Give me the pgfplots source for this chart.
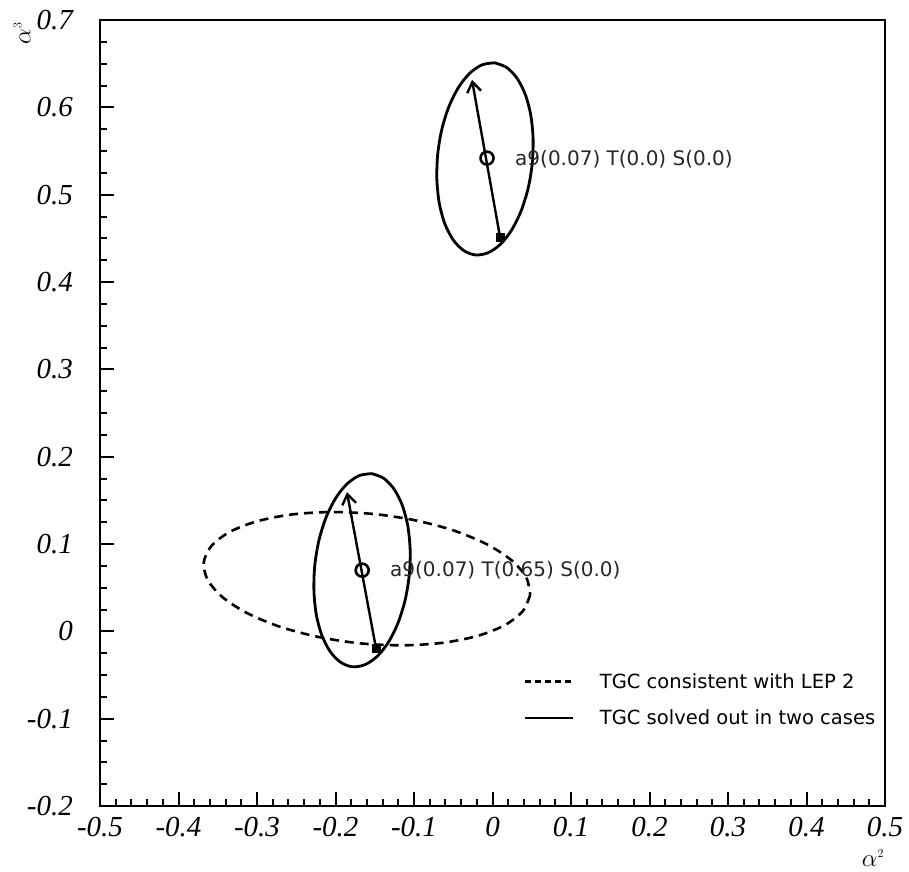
\documentclass[border=0pt]{standalone}
\usepackage{fontspec}
\setmainfont{Liberation Serif}
\newfontfamily\hfont{DejaVu Sans}
\usepackage{pgfplots}
\pgfplotsset{compat=1.18}
\usetikzlibrary{arrows.meta}

% ellipse outlines (alpha2, alpha3)
\pgfplotstableread{
x y
0.0027 0.6510
0.0178 0.6458
0.0311 0.6335
0.0417 0.6149
0.0487 0.5913
0.0517 0.5642
0.0506 0.5356
0.0454 0.5073
0.0364 0.4813
0.0243 0.4594
0.0099 0.4430
-0.0059 0.4334
-0.0219 0.4310
-0.0370 0.4362
-0.0503 0.4485
-0.0609 0.4671
-0.0679 0.4907
-0.0709 0.5178
-0.0698 0.5464
-0.0646 0.5747
-0.0556 0.6007
-0.0435 0.6226
-0.0291 0.6390
-0.0133 0.6487
0.0027 0.6510
}\ellupper
\pgfplotstableread{
x y
-0.1539 0.1806
-0.1388 0.1754
-0.1255 0.1630
-0.1149 0.1443
-0.1079 0.1206
-0.1049 0.0933
-0.1060 0.0646
-0.1112 0.0362
-0.1202 0.0100
-0.1323 -0.0120
-0.1467 -0.0285
-0.1625 -0.0382
-0.1785 -0.0406
-0.1936 -0.0354
-0.2069 -0.0230
-0.2175 -0.0043
-0.2245 0.0194
-0.2275 0.0467
-0.2264 0.0754
-0.2212 0.1038
-0.2122 0.1300
-0.2001 0.1520
-0.1857 0.1685
-0.1699 0.1783
-0.1539 0.1806
}\elllower
\pgfplotstableread{
x y
0.0480 0.0419
0.0388 0.0234
0.0161 0.0073
-0.0186 -0.0051
-0.0630 -0.0131
-0.1139 -0.0160
-0.1680 -0.0138
-0.2215 -0.0065
-0.2709 0.0053
-0.3126 0.0209
-0.3440 0.0392
-0.3628 0.0589
-0.3678 0.0787
-0.3586 0.0972
-0.3359 0.1133
-0.3012 0.1257
-0.2568 0.1337
-0.2059 0.1366
-0.1518 0.1344
-0.0983 0.1271
-0.0489 0.1153
-0.0072 0.0997
0.0242 0.0814
0.0430 0.0617
0.0480 0.0419
}\elllep

\begin{document}
\begin{tikzpicture}
\path[use as bounding box] (-100pt,-65pt) rectangle (809pt,806pt);
\begin{axis}[
  at={(0pt,0pt)}, anchor=south west,
  scale only axis, width=785pt, height=786pt,
  xmin=-0.5, xmax=0.5, ymin=-0.2, ymax=0.7,
  xtick={-0.5,-0.4,-0.3,-0.2,-0.1,0,0.1,0.2,0.3,0.4,0.5},
  xticklabels={-0.5,-0.4,-0.3,-0.2,-0.1,0,0.1,0.2,0.3,0.4,0.5},
  ytick={-0.2,-0.1,0,0.1,0.2,0.3,0.4,0.5,0.6,0.7},
  yticklabels={-0.2,-0.1,0,0.1,0.2,0.3,0.4,0.5,0.6,0.7},
  minor x tick num=4, minor y tick num=3,
  tick pos=left, tick align=inside,
  major tick length=14pt, minor tick length=7pt,
  tick style={line width=2pt, black},
  axis line style={line width=2pt},
  tick label style={font=\fontsize{29}{29}\selectfont\itshape},
  xticklabel style={anchor=north, inner sep=0pt, yshift=-11pt},
  yticklabel style={anchor=east, inner sep=0pt, xshift=-27pt},
  legend style={draw=none, fill=none, at={(0.539,0.135)}, anchor=west,
    font=\hfont\fontsize{19.5}{19.5}\selectfont, inner sep=0pt,
    row sep=20pt, column sep=26pt, nodes={inner sep=0pt}},
  legend cell align=left,
  legend image code/.code={\draw[#1] (0pt,0pt) -- (48pt,0pt);},
]
\addplot[forget plot, line width=2.6pt, dash pattern=on 9pt off 6pt, smooth] table {\elllep};
\addplot[forget plot, line width=2.8pt, smooth] table {\ellupper};
\addplot[forget plot, line width=2.8pt, smooth] table {\elllower};

\addplot[forget plot, line width=2.4pt, -{Straight Barb[length=10pt,width=14pt]}]
  coordinates {(0.0096,0.4514) (-0.0261,0.6313)};
\addplot[forget plot, line width=2.4pt, -{Straight Barb[length=10pt,width=14pt]}]
  coordinates {(-0.1484,-0.0194) (-0.1854,0.1593)};

\addplot[forget plot, only marks, mark=square*, mark size=4.2pt]
  coordinates {(0.0096,0.4514) (-0.1484,-0.0194)};
\addplot[forget plot, only marks, mark=o, mark size=6.5pt, line width=2.6pt]
  coordinates {(-0.0070,0.5419) (-0.1660,0.0700)};

\addlegendimage{line width=2.6pt, dash pattern=on 6pt off 4pt}
\addlegendentry{TGC consistent with LEP 2}
\addlegendimage{line width=2.6pt}
\addlegendentry{TGC solved out in two cases}

\node[anchor=west, inner sep=0pt, font=\hfont\fontsize{20}{20}\selectfont, text=black!85]
  at (axis cs:0.0287,0.541) {a9(0.07) T(0.0) S(0.0)};
\node[anchor=west, inner sep=0pt, font=\hfont\fontsize{20}{20}\selectfont, text=black!85]
  at (axis cs:-0.1306,0.070) {a9(0.07) T(0.65) S(0.0)};
\end{axis}
\node[rotate=90, font=\fontsize{26}{26}\selectfont] at (-78pt,773pt) {$\alpha^{\scriptscriptstyle 3}$};
\node[font=\fontsize{26}{26}\selectfont] at (773pt,-52pt) {$\alpha^{\scriptscriptstyle 2}$};
\end{tikzpicture}
\end{document}
